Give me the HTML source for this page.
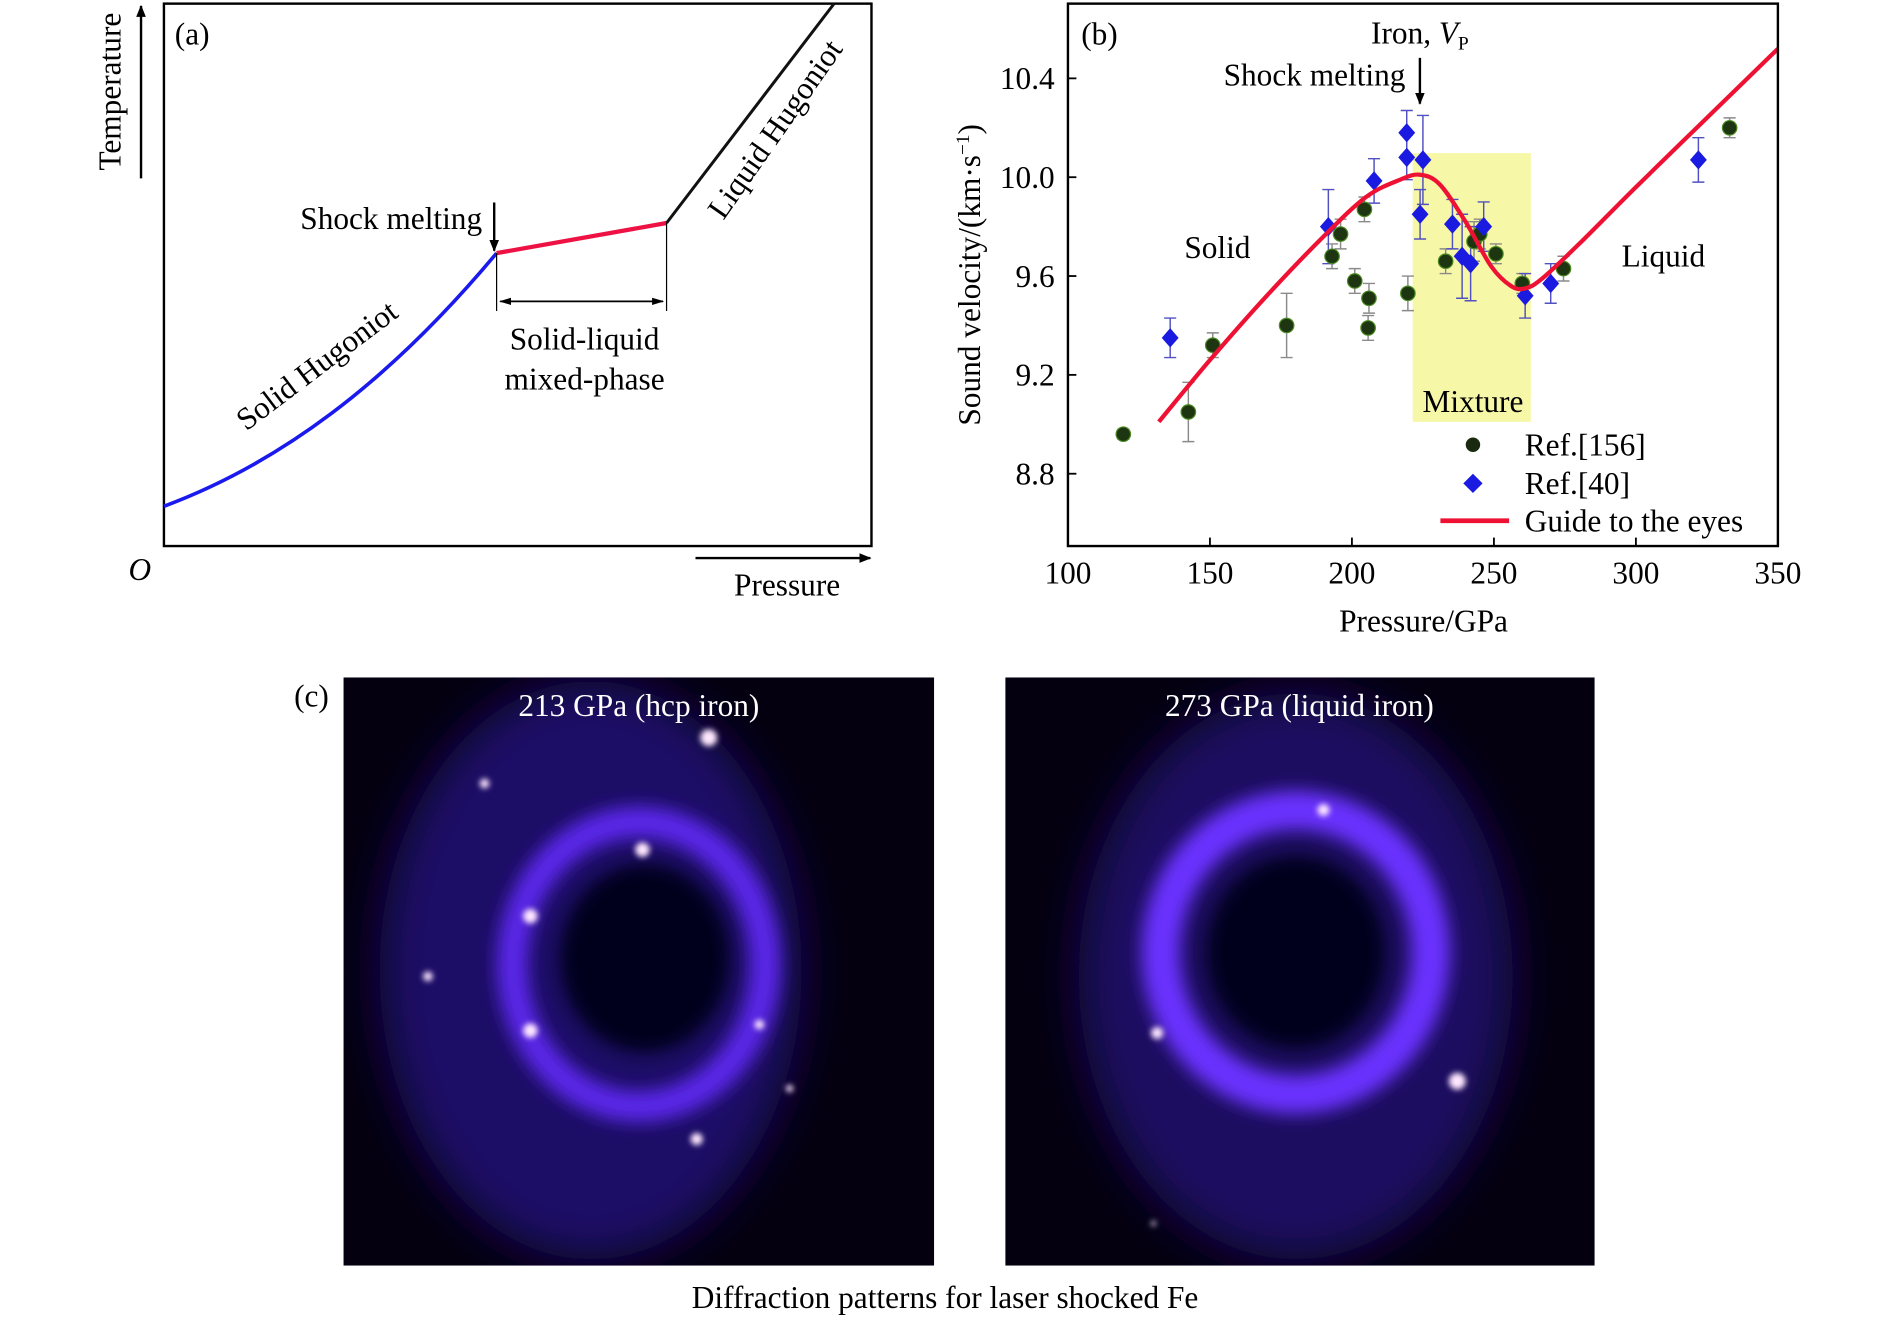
<!DOCTYPE html>
<html><head><meta charset="utf-8"><style>
html,body{margin:0;padding:0;background:#fff;}
svg{display:block;font-family:"Liberation Serif",serif;}
</style></head><body>
<svg id="fig" width="1890" height="1317" viewBox="0 0 1568 1092.6" xmlns="http://www.w3.org/2000/svg">
<defs>
<filter id="b8" x="-50%" y="-50%" width="200%" height="200%"><feGaussianBlur stdDeviation="7"/></filter>
<filter id="b20" x="-50%" y="-50%" width="200%" height="200%"><feGaussianBlur stdDeviation="18"/></filter>
<filter id="b3" x="-100%" y="-100%" width="300%" height="300%"><feGaussianBlur stdDeviation="2.5"/></filter>
<clipPath id="c1"><rect x="285" y="562" width="490" height="488"/></clipPath>
<clipPath id="c2"><rect x="834" y="562" width="489" height="488"/></clipPath>
<marker id="ah" markerWidth="10" markerHeight="10" refX="9" refY="5" orient="auto" markerUnits="userSpaceOnUse"><path d="M0,1 L10,5 L0,9 Z" fill="#000"/></marker>
<marker id="ahs" markerWidth="10" markerHeight="8" refX="9" refY="4" orient="auto-start-reverse" markerUnits="userSpaceOnUse"><path d="M0,1 L10,4 L0,7 Z" fill="#000"/></marker>
</defs>

<!-- Panel a -->
<g font-size="26">
<rect x="136" y="3" width="587" height="450" fill="none" stroke="#000" stroke-width="2"/>
<text x="145" y="37">(a)</text>
<line x1="117" y1="148" x2="117" y2="5" stroke="#000" stroke-width="2" marker-end="url(#ah)"/>
<text transform="translate(100,76) rotate(-90)" text-anchor="middle">Temperature</text>
<text x="116" y="481" text-anchor="middle" font-style="italic">O</text>
<line x1="577" y1="463" x2="722" y2="463" stroke="#000" stroke-width="2" marker-end="url(#ah)"/>
<text x="653" y="494" text-anchor="middle">Pressure</text>
<path d="M136,420 C230,385 320,320 412,210" fill="none" stroke="#1a1aee" stroke-width="3"/>
<line x1="412" y1="210" x2="553" y2="185" stroke="#ee1144" stroke-width="3.5"/>
<line x1="553" y1="185" x2="692" y2="3" stroke="#111" stroke-width="2.5"/>
<line x1="412" y1="210" x2="412" y2="258" stroke="#000" stroke-width="1"/>
<line x1="553" y1="185" x2="553" y2="258" stroke="#000" stroke-width="1"/>
<line x1="415" y1="250" x2="550" y2="250" stroke="#000" stroke-width="1.5" marker-start="url(#ahs)" marker-end="url(#ahs)"/>
<text x="485" y="290" text-anchor="middle">Solid-liquid</text>
<text x="485" y="323" text-anchor="middle">mixed-phase</text>
<text x="400" y="190" text-anchor="end">Shock melting</text>
<line x1="410" y1="168" x2="410" y2="208" stroke="#000" stroke-width="2" marker-end="url(#ah)"/>
<text transform="translate(268,310) rotate(-37)" text-anchor="middle">Solid Hugoniot</text>
<text transform="translate(650,112) rotate(-55)" text-anchor="middle">Liquid Hugoniot</text>
</g>

<!-- Panel b -->
<g id="pb" font-size="26">
<rect x="1172" y="127" width="98" height="223" fill="#f7f7a8"/>
<g id="bars"></g><g id="pts"></g><g id="curve"></g>
<rect x="886" y="3" width="589" height="450" fill="none" stroke="#000" stroke-width="2"/>
<g id="xt"></g><g id="yt"></g>
<text x="897" y="37">(b)</text>
<text x="1178" y="36" text-anchor="middle">Iron, <tspan font-style="italic">V</tspan><tspan font-size="16" dy="5">P</tspan></text>
<text x="1166" y="71" text-anchor="end">Shock melting</text>
<line x1="1178" y1="48" x2="1178" y2="86" stroke="#000" stroke-width="2" marker-end="url(#ah)"/>
<text x="1010" y="214" text-anchor="middle">Solid</text>
<text x="1380" y="221" text-anchor="middle">Liquid</text>
<text x="1222" y="342" text-anchor="middle">Mixture</text>
<text transform="translate(813,228) rotate(-90)" text-anchor="middle">Sound velocity/(km·s<tspan font-size="16" dy="-9">−1</tspan><tspan dy="9">)</tspan></text>
<text x="1181" y="524" text-anchor="middle">Pressure/GPa</text>
<g>
<circle cx="1222" cy="369" r="6" fill="#1a2a10"/>
<text x="1265" y="378">Ref.[156]</text>
<path d="M1222,393 L1230,401 L1222,409 L1214,401 Z" fill="#1a1ae0"/>
<text x="1265" y="410">Ref.[40]</text>
<line x1="1195" y1="432" x2="1252" y2="432" stroke="#ee1133" stroke-width="4"/>
<text x="1265" y="441">Guide to the eyes</text>
</g>
</g>

<!-- Panel c -->
<g font-size="26">
<text x="244" y="586">(c)</text>
<g clip-path="url(#c1)">
<rect x="285" y="562" width="490" height="488" fill="#040010"/>
<ellipse cx="490" cy="805" rx="175" ry="240" fill="#1e0c66" filter="url(#b20)"/>
<ellipse cx="530" cy="800" rx="105" ry="118" fill="none" stroke="#5a28e8" stroke-width="26" filter="url(#b8)"/>
<ellipse cx="535" cy="795" rx="70" ry="78" fill="#05001e" filter="url(#b8)"/>
<g fill="#ffe8ff" filter="url(#b3)">
<circle cx="588" cy="612" r="7"/><circle cx="402" cy="650" r="4"/><circle cx="533" cy="705" r="6"/>
<circle cx="440" cy="760" r="6"/><circle cx="440" cy="855" r="6"/><circle cx="630" cy="850" r="4"/>
<circle cx="578" cy="945" r="5"/><circle cx="655" cy="903" r="3"/><circle cx="355" cy="810" r="4"/>
</g>
</g>
<text x="530" y="594" text-anchor="middle" fill="#fff">213 GPa (hcp iron)</text>
<g clip-path="url(#c2)">
<rect x="834" y="562" width="489" height="488" fill="#040010"/>
<ellipse cx="1075" cy="810" rx="180" ry="235" fill="#1c0b60" filter="url(#b20)"/>
<ellipse cx="1075" cy="790" rx="112" ry="118" fill="none" stroke="#6a30ff" stroke-width="32" filter="url(#b8)"/>
<ellipse cx="1075" cy="790" rx="74" ry="80" fill="#05001e" filter="url(#b8)"/>
<g fill="#ffe8ff" filter="url(#b3)">
<circle cx="1098" cy="672" r="5"/><circle cx="960" cy="857" r="5"/><circle cx="1209" cy="897" r="7"/><circle cx="957" cy="1015" r="2"/>
</g>
</g>
<text x="1078" y="594" text-anchor="middle" fill="#fff">273 GPa (liquid iron)</text>
<text x="784" y="1085" text-anchor="middle">Diffraction patterns for laser shocked Fe</text>
</g>
</svg>
<script>
const xTicks=[100,150,200,250,300,350];
const yTicks=[8.8,9.2,9.6,10.0,10.4];
const yTickLabels=["8.8","9.2","9.6","10.0","10.4"];
const ref156P=[119.5,142.4,151,177,193,196,204.4,201,206,205.7,219.7,233,243,245,250.7,260,274.5,333];
const ref156V=[8.96,9.05,9.32,9.40,9.68,9.77,9.87,9.58,9.51,9.39,9.53,9.66,9.74,9.77,9.69,9.57,9.63,10.20];
const ref156E=[0.02,0.12,0.05,0.13,0.05,0.06,0.05,0.05,0.06,0.05,0.07,0.05,0.08,0.06,0.04,0.04,0.05,0.04];
const ref40P=[136,191.7,207.8,219.3,219.3,225,224,235.4,238.8,241.8,246.4,261,270,322];
const ref40V=[9.35,9.80,9.985,10.18,10.08,10.07,9.85,9.81,9.68,9.65,9.80,9.52,9.57,10.07];
const ref40E=[0.08,0.15,0.09,0.09,0.09,0.18,0.10,0.10,0.17,0.15,0.10,0.09,0.08,0.09];
const guideP=[132,150,170,190,205,217,224,231,240,249,256,261,267,280,300,325,350];
const guideV=[9.01,9.26,9.52,9.76,9.92,9.99,10.01,9.97,9.82,9.64,9.56,9.55,9.59,9.73,9.96,10.24,10.52];
const X0=886,X1=1475,Y0=453,Y1=3;
function sx(p){return X0+(p-100)/250*(X1-X0);}
function sy(v){return 393-(v-8.8)/1.6*(393-65);}
const NS='http://www.w3.org/2000/svg';
function mk(tag,attrs,parent){const e=document.createElementNS(NS,tag);for(const k in attrs)e.setAttribute(k,attrs[k]);document.getElementById(parent).appendChild(e);return e;}
xTicks.forEach((t,i)=>{
 const l=mk('line',{x1:sx(t),x2:sx(t),y1:Y0,y2:Y0-7,stroke:'#000','stroke-width':1.5},'xt');
 
 
 const tx=mk('text',{x:sx(t),y:484,'text-anchor':'middle'},'xt');tx.textContent=t;
 
 
});
yTicks.forEach((t,i)=>{
 const l=mk('line',{x1:X0,x2:X0+7,y1:sy(t),y2:sy(t),stroke:'#000','stroke-width':1.5},'yt');
 
 
 const tx=mk('text',{x:875,y:sy(t)+9,'text-anchor':'end'},'yt');tx.textContent=yTickLabels[i];
 
 
});
function bar(p,v,e,col){
 const x=sx(p),a=sy(v+e),b=sy(v-e);
 const g=mk('path',{d:`M${x},${a}V${b}M${x-5},${a}H${x+5}M${x-5},${b}H${x+5}`,stroke:col,'stroke-width':1.2,fill:'none'},'bars');
 
 
}
ref156P.forEach((p,i)=>{
 bar(p,ref156V[i],ref156E[i],'#8a8a8a');
 const c=mk('circle',{cx:sx(p),cy:sy(ref156V[i]),r:6,fill:'#1e3512',stroke:'#4a8a20','stroke-width':1},'pts');
 
 
});
ref40P.forEach((p,i)=>{
 bar(p,ref40V[i],ref40E[i],'#5050c0');
 const x=sx(p),y=sy(ref40V[i]);
 const d=mk('path',{d:`M${x},${y-8}L${x+7},${y}L${x},${y+8}L${x-7},${y}Z`,fill:'#1a1ae0'},'pts');
 
 
});
// Catmull-Rom smooth path
const pts=guideP.map((p,i)=>[sx(p),sy(guideV[i])]);
let pd='M'+pts[0][0]+','+pts[0][1];
for(let i=0;i<pts.length-1;i++){
 const p0=pts[Math.max(0,i-1)],p1=pts[i],p2=pts[i+1],p3=pts[Math.min(pts.length-1,i+2)];
 const c1=[p1[0]+(p2[0]-p0[0])/6,p1[1]+(p2[1]-p0[1])/6];
 const c2=[p2[0]-(p3[0]-p1[0])/6,p2[1]-(p3[1]-p1[1])/6];
 pd+=`C${c1[0]},${c1[1]} ${c2[0]},${c2[1]} ${p2[0]},${p2[1]}`;
}
const cv=mk('path',{d:pd,fill:'none',stroke:'#ee1133','stroke-width':3.5,'stroke-linejoin':'round'},'curve');


</script>
</body></html>
